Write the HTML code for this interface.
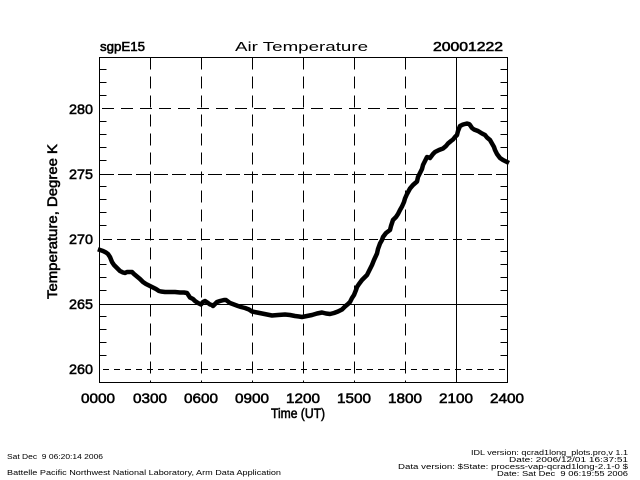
<!DOCTYPE html>
<html>
<head>
<meta charset="utf-8">
<style>
html,body{margin:0;padding:0;background:#fff;}
svg{display:block;}
text{font-family:"Liberation Sans",sans-serif;fill:#000;}
.b{stroke:#000;stroke-width:0.55;}
</style>
</head>
<body>
<svg width="640" height="480" viewBox="0 0 640 480" xmlns="http://www.w3.org/2000/svg">
<rect x="0" y="0" width="640" height="480" fill="#fff"/>

<!-- grid vertical -->
<g stroke="#000" stroke-width="1" fill="none">
  <line x1="150.5" y1="57.5" x2="150.5" y2="382.5" stroke-dasharray="12,7"/>
  <line x1="201.5" y1="57.5" x2="201.5" y2="382.5" stroke-dasharray="12,7"/>
  <line x1="252.5" y1="57.5" x2="252.5" y2="382.5" stroke-dasharray="12,7"/>
  <line x1="303.5" y1="57.5" x2="303.5" y2="382.5" stroke-dasharray="12,7"/>
  <line x1="354.5" y1="57.5" x2="354.5" y2="382.5" stroke-dasharray="12,7"/>
  <line x1="405.5" y1="57.5" x2="405.5" y2="382.5" stroke-dasharray="12,7"/>
  <line x1="456.5" y1="57.5" x2="456.5" y2="382.5"/>
  <!-- grid horizontal -->
  <line x1="100" y1="108.5" x2="507.5" y2="108.5" stroke-dasharray="12,7" stroke-dashoffset="-2"/>
  <line x1="100" y1="174.5" x2="507.5" y2="174.5" stroke-dasharray="14,4"/>
  <line x1="100" y1="239.5" x2="507.5" y2="239.5" stroke-dasharray="9,5" stroke-dashoffset="-3"/>
  <line x1="100" y1="304.5" x2="507.5" y2="304.5"/>
  <line x1="100" y1="369.5" x2="507.5" y2="369.5" stroke-dasharray="6,5" stroke-dashoffset="-3"/>
</g>

<!-- axes box -->
<rect x="99.5" y="57.5" width="408" height="325" fill="none" stroke="#000" stroke-width="1"/>

<!-- minor y ticks -->
<g stroke="#000" stroke-width="1">
  <line x1="99.5" y1="69.5" x2="106.5" y2="69.5"/><line x1="507.5" y1="69.5" x2="500.5" y2="69.5"/>
  <line x1="99.5" y1="82.5" x2="106.5" y2="82.5"/><line x1="507.5" y1="82.5" x2="500.5" y2="82.5"/>
  <line x1="99.5" y1="95.5" x2="106.5" y2="95.5"/><line x1="507.5" y1="95.5" x2="500.5" y2="95.5"/>
  <line x1="99.5" y1="121.5" x2="106.5" y2="121.5"/><line x1="507.5" y1="121.5" x2="500.5" y2="121.5"/>
  <line x1="99.5" y1="134.5" x2="106.5" y2="134.5"/><line x1="507.5" y1="134.5" x2="500.5" y2="134.5"/>
  <line x1="99.5" y1="147.5" x2="106.5" y2="147.5"/><line x1="507.5" y1="147.5" x2="500.5" y2="147.5"/>
  <line x1="99.5" y1="160.5" x2="106.5" y2="160.5"/><line x1="507.5" y1="160.5" x2="500.5" y2="160.5"/>
  <line x1="99.5" y1="186.5" x2="106.5" y2="186.5"/><line x1="507.5" y1="186.5" x2="500.5" y2="186.5"/>
  <line x1="99.5" y1="199.5" x2="106.5" y2="199.5"/><line x1="507.5" y1="199.5" x2="500.5" y2="199.5"/>
  <line x1="99.5" y1="212.5" x2="106.5" y2="212.5"/><line x1="507.5" y1="212.5" x2="500.5" y2="212.5"/>
  <line x1="99.5" y1="225.5" x2="106.5" y2="225.5"/><line x1="507.5" y1="225.5" x2="500.5" y2="225.5"/>
  <line x1="99.5" y1="251.5" x2="106.5" y2="251.5"/><line x1="507.5" y1="251.5" x2="500.5" y2="251.5"/>
  <line x1="99.5" y1="264.5" x2="106.5" y2="264.5"/><line x1="507.5" y1="264.5" x2="500.5" y2="264.5"/>
  <line x1="99.5" y1="277.5" x2="106.5" y2="277.5"/><line x1="507.5" y1="277.5" x2="500.5" y2="277.5"/>
  <line x1="99.5" y1="290.5" x2="106.5" y2="290.5"/><line x1="507.5" y1="290.5" x2="500.5" y2="290.5"/>
  <line x1="99.5" y1="316.5" x2="106.5" y2="316.5"/><line x1="507.5" y1="316.5" x2="500.5" y2="316.5"/>
  <line x1="99.5" y1="329.5" x2="106.5" y2="329.5"/><line x1="507.5" y1="329.5" x2="500.5" y2="329.5"/>
  <line x1="99.5" y1="342.5" x2="106.5" y2="342.5"/><line x1="507.5" y1="342.5" x2="500.5" y2="342.5"/>
  <line x1="99.5" y1="355.5" x2="106.5" y2="355.5"/><line x1="507.5" y1="355.5" x2="500.5" y2="355.5"/>
</g>

<!-- data curve -->
<polyline fill="none" stroke="#000" stroke-width="4.5" stroke-linejoin="round" stroke-linecap="square" points="
100,250 103,251 106,252.5 108,254 110,257 112,262 114,265 116,267 118,269 120,271 123,272.5 125,273 127,272 130,272 132,272 134,274 137,276.5 140,279 143,282 146,284 150,286 153,287.5 156,289 159,291 161,291.5 165,292 170,292 175,292 180,292.5 184,292.5 187,293 189,296 190,297.5 193,299 195,301 198,303 201,304.5 203,302 205,301 208,303 210,304.5 212,305 213,306 215,304 217,302 220,301 222,300.5 224,300 226,300 228,301.5 230,303 234,304.5 238,306 241,307 245,308 249,309.5 252,311.5 257,312.5 262,313.5 267,314.5 272,315.5 278,315 285,314.5 290,315 295,316 299,316.5 302,317 307,316 312,315 317,313.5 322,312.5 326,313.5 330,314 334,313 338,311.5 342,309.5 345,306.5 348,304 350,302 352,298 354,295 356,290 357,287 359,284 362,280 364,278 367,275 369,271 372,265 374,260 377,253.5 378,249 380,243.5 382,240 383,237 386,233 390,230 391,226 393,220 396,217 398,214 400,210 402,206.5 404,202 405,198.5 407,194 410,188.5 413,185 417,181.5 418,177 420,173 422,169 423,165 425,161 427,157 429,157.5 430,158 433,154 435,152 439,150 443,148.5 446,146 448,143.5 451,141 453,139.5 455,137 457,135 458,131 460,126 463,124.5 467,123.5 469,124 470,125 472,128 474,129.5 478,131 482,133.5 485,135 487,137.5 490,140 492,143.5 494,147 495,150 497,154 500,158 503,160 507,162"/>

<!-- title row -->
<text class="b" x="100" y="51" font-size="12.5" textLength="45" lengthAdjust="spacingAndGlyphs">sgpE15</text>
<text x="235" y="51" font-size="12.5" textLength="133" lengthAdjust="spacingAndGlyphs">Air Temperature</text>
<text class="b" x="433" y="51" font-size="12.5" textLength="70" lengthAdjust="spacingAndGlyphs">20001222</text>

<!-- y tick labels -->
<g font-size="14" class="b">
  <text class="b" x="69" y="114" textLength="24" lengthAdjust="spacingAndGlyphs">280</text>
  <text class="b" x="69" y="179" textLength="24" lengthAdjust="spacingAndGlyphs">275</text>
  <text class="b" x="69" y="244" textLength="24" lengthAdjust="spacingAndGlyphs">270</text>
  <text class="b" x="69" y="309" textLength="24" lengthAdjust="spacingAndGlyphs">265</text>
  <text class="b" x="69" y="374" textLength="24" lengthAdjust="spacingAndGlyphs">260</text>
</g>

<!-- x tick labels -->
<g font-size="14">
  <text class="b" x="81" y="403" textLength="34" lengthAdjust="spacingAndGlyphs">0000</text>
  <text class="b" x="133" y="403" textLength="34" lengthAdjust="spacingAndGlyphs">0300</text>
  <text class="b" x="184" y="403" textLength="34" lengthAdjust="spacingAndGlyphs">0600</text>
  <text class="b" x="235" y="403" textLength="34" lengthAdjust="spacingAndGlyphs">0900</text>
  <text class="b" x="286" y="403" textLength="34" lengthAdjust="spacingAndGlyphs">1200</text>
  <text class="b" x="337" y="403" textLength="34" lengthAdjust="spacingAndGlyphs">1500</text>
  <text class="b" x="388" y="403" textLength="34" lengthAdjust="spacingAndGlyphs">1800</text>
  <text class="b" x="439" y="403" textLength="34" lengthAdjust="spacingAndGlyphs">2100</text>
  <text class="b" x="490" y="403" textLength="34" lengthAdjust="spacingAndGlyphs">2400</text>
</g>

<!-- axis titles -->
<text class="b" x="271" y="418" font-size="13.5" textLength="54" lengthAdjust="spacingAndGlyphs">Time (UT)</text>
<text class="b" transform="translate(57,299) rotate(-90)" font-size="13.5" textLength="155" lengthAdjust="spacingAndGlyphs">Temperature, Degree K</text>

<!-- footer left -->
<text x="7" y="459" font-size="7.5" textLength="96" lengthAdjust="spacingAndGlyphs" xml:space="preserve">Sat Dec  9 06:20:14 2006</text>
<text x="7" y="475" font-size="7.5" textLength="274" lengthAdjust="spacingAndGlyphs">Battelle Pacific Northwest National Laboratory, Arm Data Application</text>

<!-- footer right -->
<text x="471" y="455" font-size="7" textLength="157" lengthAdjust="spacingAndGlyphs">IDL version: qcrad1long_plots.pro,v 1.1</text>
<text x="509" y="462" font-size="7" textLength="119" lengthAdjust="spacingAndGlyphs">Date: 2006/12/01 16:37:51</text>
<text x="398" y="469" font-size="7" textLength="230" lengthAdjust="spacingAndGlyphs">Data version: $State: process-vap-qcrad1long-2.1-0 $</text>
<text x="497" y="476" font-size="7" textLength="131" lengthAdjust="spacingAndGlyphs" xml:space="preserve">Date: Sat Dec  9 06:19:55 2006</text>
</svg>
</body>
</html>
